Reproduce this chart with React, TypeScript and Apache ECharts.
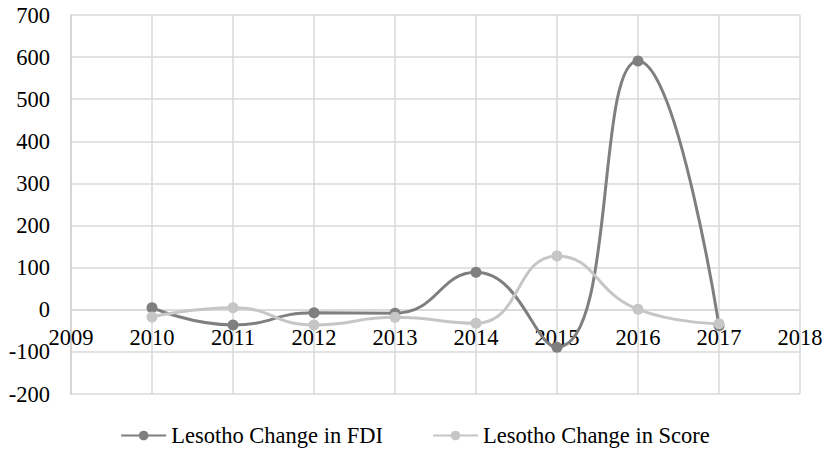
import React, { useEffect, useRef } from "react";
import * as echarts from "echarts";

const years = [2010, 2011, 2012, 2013, 2014, 2015, 2016, 2017];
const fdiChange = [5, -36, -7, -8, 89, -89, 591, -38];
const scoreChange = [-17, 5, -36, -18, -32, 128, 1, -33];

const FONT = "'Liberation Serif', 'Times New Roman', serif";
const FONT_SIZE = 22.5;

// Grid box: y runs -200..700 over 379px, so 0 sits 84px above the bottom edge.
const GRID_TOP = 15;
const GRID_BOTTOM = 63;
const ZERO_FROM_BOTTOM = 84;

export default function App() {
  const ref = useRef<HTMLDivElement>(null);

  useEffect(() => {
    if (!ref.current) return;
    const chart = echarts.init(ref.current, undefined, { renderer: "svg" });
    chart.setOption({
      animation: false,
      backgroundColor: "#ffffff",
      textStyle: { fontFamily: FONT },
      grid: { left: 71, right: 30, top: GRID_TOP, bottom: GRID_BOTTOM, containLabel: false },
      xAxis: {
        type: "value",
        min: 2009,
        max: 2018,
        interval: 1,
        // the year axis crosses the value axis at zero
        offset: -ZERO_FROM_BOTTOM,
        axisLine: { show: true, onZero: false, lineStyle: { color: "#d9d9d9", width: 1.5 } },
        axisTick: { show: false },
        axisLabel: {
          color: "#000",
          fontSize: FONT_SIZE,
          fontFamily: FONT,
          margin: 16,
          formatter: (v: number) => String(v),
        },
        splitLine: { show: true, lineStyle: { color: "#d9d9d9", width: 1.5 } },
      },
      yAxis: {
        type: "value",
        min: -200,
        max: 700,
        interval: 100,
        axisLine: { show: true, onZero: false, lineStyle: { color: "#d0d0d0", width: 1.5 } },
        axisTick: { show: false },
        axisLabel: { color: "#000", fontSize: FONT_SIZE, fontFamily: FONT, margin: 21 },
        splitLine: { show: true, lineStyle: { color: "#d9d9d9", width: 1.5 } },
      },
      legend: {
        top: 419,
        left: "center",
        itemWidth: 45,
        itemHeight: 12,
        itemGap: 49,
        textStyle: { color: "#000", fontSize: FONT_SIZE, fontFamily: FONT },
        data: ["Lesotho Change in FDI", "Lesotho Change in Score"],
      },
      series: [
        {
          name: "Lesotho Change in FDI",
          type: "line",
          smooth: 0.5,
          symbol: "circle",
          symbolSize: 11,
          color: "#7f7f7f",
          lineStyle: { width: 3, color: "#7f7f7f" },
          itemStyle: { color: "#7f7f7f" },
          data: years.map((y, i) => [y, fdiChange[i]]),
        },
        {
          name: "Lesotho Change in Score",
          type: "line",
          smooth: 0.5,
          symbol: "circle",
          symbolSize: 11,
          color: "#c6c6c6",
          lineStyle: { width: 3, color: "#c6c6c6" },
          itemStyle: { color: "#c6c6c6" },
          data: years.map((y, i) => [y, scoreChange[i]]),
        },
      ],
    });
    return () => chart.dispose();
  }, []);

  return <div ref={ref} style={{ width: 830, height: 457, margin: -8 }} />;
}
